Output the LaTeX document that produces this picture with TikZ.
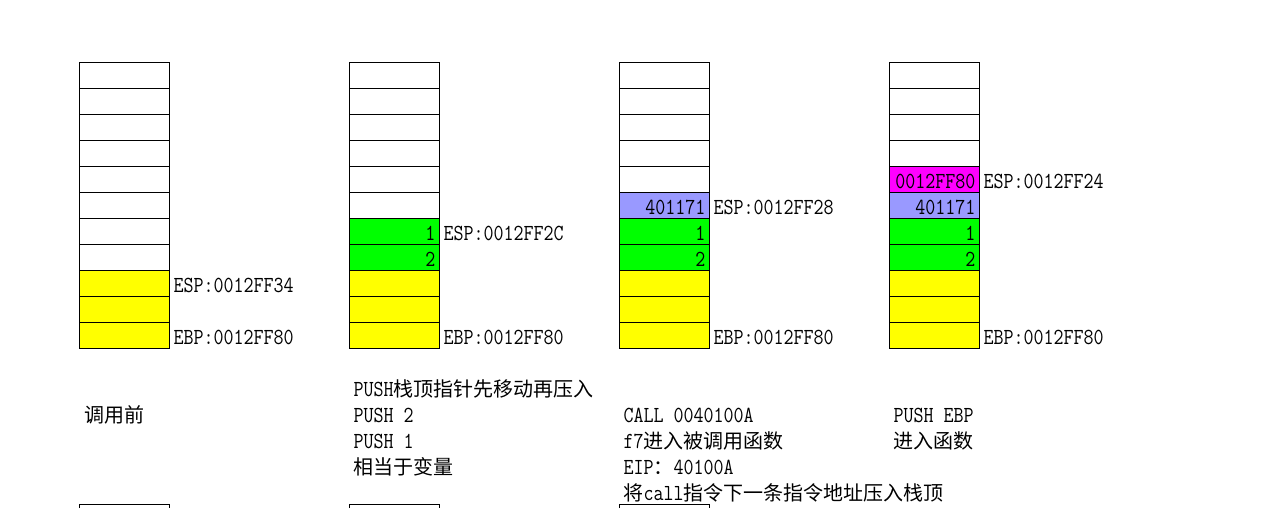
\documentclass[tikz,border=0pt]{standalone}
\usepackage{fontspec}
\usepackage{tikz}
\newfontfamily\latinfont[FakeStretch=0.845]{Latin Modern Mono}
\newfontfamily\cjk{Noto Sans CJK SC}
\newcommand{\latin}{\fontsize{17.25pt}{20pt}\latinfont}
\newcommand{\zh}[1]{{\fontsize{15pt}{20pt}\cjk #1}}
\definecolor{oldframe}{HTML}{FFFF00}
\definecolor{argcell}{HTML}{00FF00}
\definecolor{retaddr}{HTML}{9999FF}
\definecolor{savedebp}{HTML}{FF00FF}

\begin{document}
\begin{tikzpicture}[x=0.75pt,y=-0.75pt,line width=0.75pt,
    every node/.style={inner sep=0pt,font=\latin},
    lab/.style={anchor=base west},
    val/.style={anchor=base east}]
    \useasboundingbox[fill=white] (0,0) rectangle (1283,508);

    % coloured cells
    \fill[oldframe] (79.5,270) rectangle (169.5,348);
    \fill[oldframe] (349.5,270) rectangle (439.5,348);
    \fill[argcell] (349.5,218) rectangle (439.5,270);
    \fill[oldframe] (619.5,270) rectangle (709.5,348);
    \fill[argcell] (619.5,218) rectangle (709.5,270);
    \fill[retaddr] (619.5,192) rectangle (709.5,218);
    \fill[oldframe] (889.5,270) rectangle (979.5,348);
    \fill[argcell] (889.5,218) rectangle (979.5,270);
    \fill[retaddr] (889.5,192) rectangle (979.5,218);
    \fill[savedebp] (889.5,166) rectangle (979.5,192);

    % stack grids
    \foreach \c in {79.5,349.5,619.5,889.5} {
        \draw (\c,62) rectangle (\c+90,348);
        \foreach \r in {1,...,10}
            \draw (\c,62+26*\r) -- (\c+90,62+26*\r);
    }
    \foreach \c in {79.5,349.5,619.5}
        \draw (\c,508) -- (\c,504.5) -- (\c+90,504.5) -- (\c+90,508);

    % before the call
    \node[lab] (esp1) at (173,292) {ESP:0012FF34};
    \node[lab] (ebp1) at (173,344) {EBP:0012FF80};
    \node[lab] (txt1) at (84,422) {\zh{调用前}};

    % push arguments
    \node[val] (arg1b) at (436,240) {1};
    \node[val] (arg2b) at (436,266) {2};
    \node[lab] (esp2) at (443,240) {ESP:0012FF2C};
    \node[lab] (ebp2) at (443,344) {EBP:0012FF80};
    \node[lab] (txt2a) at (353,396) {PUSH\zh{栈顶指针先移动再压入}};
    \node[lab] (txt2b) at (353,422) {PUSH 2};
    \node[lab] (txt2c) at (353,448) {PUSH 1};
    \node[lab] (txt2d) at (353,474) {\zh{相当于变量}};

    % call
    \node[val] (retc) at (706,214) {401171};
    \node[val] (arg1c) at (706,240) {1};
    \node[val] (arg2c) at (706,266) {2};
    \node[lab] (esp3) at (713,214) {ESP:0012FF28};
    \node[lab] (ebp3) at (713,344) {EBP:0012FF80};
    \node[lab] (txt3a) at (623,422) {CALL 0040100A};
    \node[lab] (txt3b) at (623,448) {f7\zh{进入被调用函数}};
    \node[lab] (txt3c) at (623,474) {EIP\zh{：}40100A};
    \node[lab] (txt3d) at (623,500) {\zh{将}call\zh{指令下一条指令地址压入栈顶}};

    % push ebp
    \node[val] (ebpd) at (976,188) {0012FF80};
    \node[val] (retd) at (976,214) {401171};
    \node[val] (arg1d) at (976,240) {1};
    \node[val] (arg2d) at (976,266) {2};
    \node[lab] (esp4) at (983,188) {ESP:0012FF24};
    \node[lab] (ebp4) at (983,344) {EBP:0012FF80};
    \node[lab] (txt4a) at (893,422) {PUSH EBP};
    \node[lab] (txt4b) at (893,448) {\zh{进入函数}};
\end{tikzpicture}
\end{document}
